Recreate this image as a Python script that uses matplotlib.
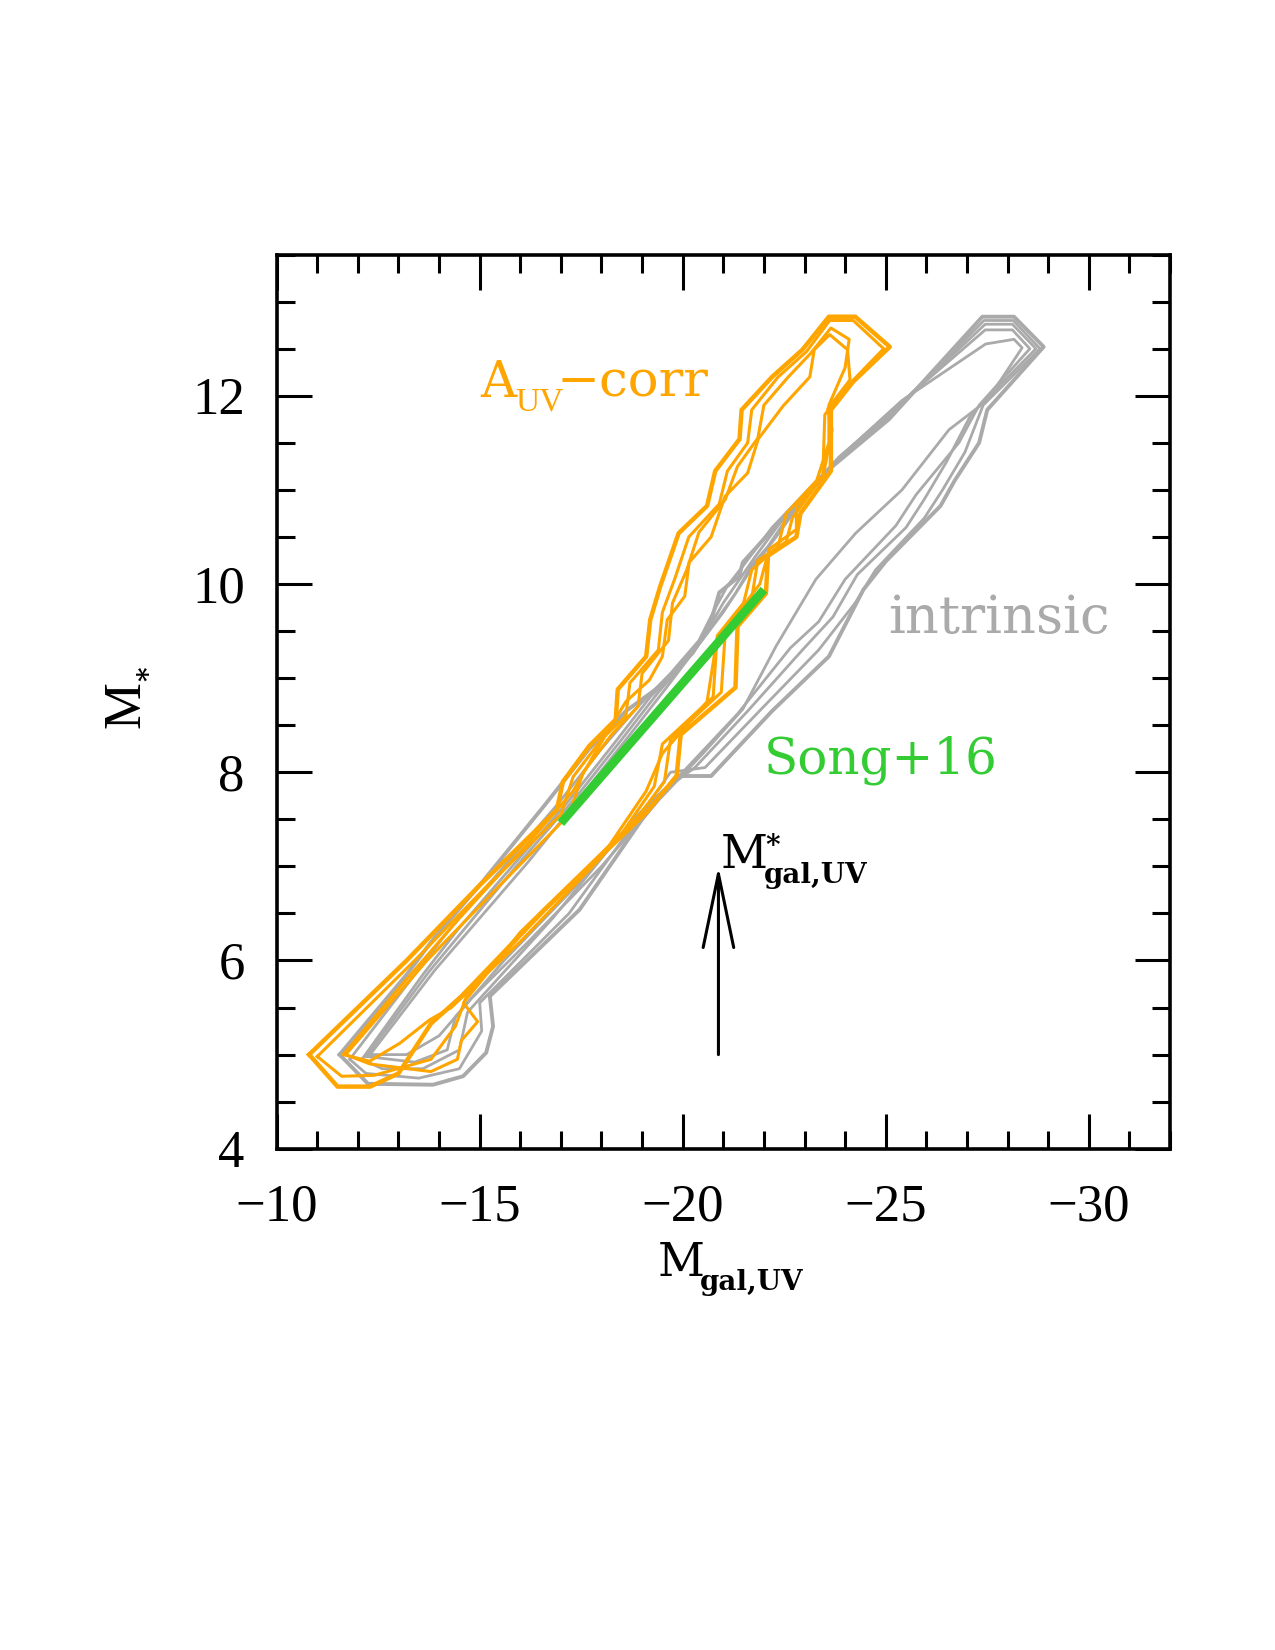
import matplotlib
matplotlib.use("Agg")
import matplotlib.pyplot as plt
from matplotlib.ticker import MultipleLocator

ORANGE = "#ffa500"
GREY = "#aaaaaa"
GREEN = "#33cc33"
SERIF = ["Liberation Serif", "DejaVu Serif"]
BOOK = ["DejaVu Serif"]

# contour outlines, (M_gal,UV, M_*) pairs, outermost first
# intrinsic (grey)
grey_1 = [(-11.55, 5.00), (-13.20, 5.85), (-13.90, 6.25), (-15.00, 6.80), (-16.60, 7.65),
          (-17.70, 8.25), (-18.60, 8.65), (-19.43, 8.91), (-20.25, 9.27), (-20.66, 9.55),
          (-20.90, 9.91), (-21.39, 10.08), (-21.48, 10.23), (-22.13, 10.54), (-23.69, 11.25),
          (-25.08, 11.75), (-27.38, 12.84), (-28.16, 12.84), (-28.89, 12.52), (-27.50, 11.85),
          (-27.30, 11.50), (-26.70, 11.10), (-26.35, 10.83), (-25.00, 10.24), (-24.45, 9.94),
          (-23.60, 9.23), (-22.20, 8.65), (-20.70, 7.96), (-19.85, 7.96), (-19.00, 7.50),
          (-17.46, 6.54), (-15.25, 5.62), (-15.33, 5.30), (-15.16, 5.02), (-14.59, 4.77),
          (-13.85, 4.68), (-12.25, 4.69), (-11.55, 5.00)]
grey_2 = [(-11.80, 4.95), (-13.40, 5.85), (-14.20, 6.30), (-15.40, 6.90), (-16.90, 7.65),
          (-18.00, 8.25), (-18.90, 8.70), (-19.70, 9.05), (-20.40, 9.40), (-20.75, 9.70),
          (-21.10, 9.98), (-21.50, 10.20), (-22.20, 10.60), (-23.75, 11.30), (-25.12, 11.80),
          (-27.42, 12.80), (-28.14, 12.80), (-28.80, 12.50), (-27.40, 11.90), (-26.95, 11.40),
          (-26.40, 11.00), (-25.95, 10.70), (-24.75, 10.15), (-24.25, 9.80), (-23.35, 9.30),
          (-22.00, 8.70), (-20.55, 8.05), (-19.70, 8.00), (-18.80, 7.45), (-17.20, 6.50),
          (-15.00, 5.55), (-15.05, 5.25), (-14.50, 4.85), (-13.50, 4.75), (-12.20, 4.80),
          (-11.80, 4.95)]
grey_3 = [(-12.10, 4.95), (-13.60, 5.85), (-14.50, 6.35), (-15.70, 6.95), (-17.20, 7.70),
          (-18.30, 8.30), (-19.20, 8.80), (-20.00, 9.15), (-20.60, 9.50), (-21.00, 9.80),
          (-21.40, 10.05), (-21.80, 10.30), (-22.40, 10.65), (-23.85, 11.35), (-25.20, 11.85),
          (-27.45, 12.76), (-28.12, 12.76), (-28.70, 12.50), (-27.10, 11.80), (-26.50, 11.30),
          (-25.95, 10.90), (-25.50, 10.60), (-24.30, 10.10), (-23.70, 9.65), (-22.95, 9.30),
          (-21.60, 8.65), (-20.30, 8.05), (-19.50, 7.80), (-18.50, 7.35), (-16.80, 6.45),
          (-14.70, 5.45), (-14.50, 5.05), (-13.60, 4.85), (-12.60, 4.85), (-12.10, 4.95)]
grey_4 = [(-12.20, 4.98), (-13.75, 5.88), (-14.75, 6.40), (-15.90, 7.00), (-17.40, 7.75),
          (-18.50, 8.35), (-19.40, 8.85), (-20.15, 9.22), (-20.80, 9.60), (-21.30, 9.90),
          (-21.70, 10.20), (-22.10, 10.40), (-22.60, 10.72), (-23.95, 11.38), (-25.30, 11.90),
          (-27.45, 12.70), (-28.12, 12.70), (-28.55, 12.50), (-27.30, 11.90), (-26.80, 11.50),
          (-25.75, 10.95), (-25.25, 10.62), (-24.00, 10.05), (-23.35, 9.60), (-22.65, 9.32),
          (-21.35, 8.62), (-20.00, 8.00), (-18.90, 7.55), (-17.50, 6.85), (-15.60, 6.00),
          (-14.40, 5.40), (-14.20, 5.05), (-13.40, 4.92), (-12.20, 4.98)]
grey_5 = [(-12.30, 5.00), (-13.90, 5.90), (-15.00, 6.45), (-16.20, 7.05), (-17.60, 7.80),
          (-18.70, 8.40), (-19.60, 8.90), (-20.30, 9.30), (-21.00, 9.70), (-21.60, 10.10),
          (-22.30, 10.50), (-22.80, 10.80), (-24.00, 11.40), (-25.40, 11.95), (-27.46, 12.55),
          (-28.16, 12.60), (-28.36, 12.51), (-27.50, 11.95), (-26.56, 11.64), (-25.40, 11.00),
          (-24.26, 10.54), (-23.28, 10.05), (-22.30, 9.34), (-21.48, 8.67), (-20.50, 8.20),
          (-19.40, 7.70), (-18.00, 7.00), (-16.20, 6.20), (-14.80, 5.60), (-14.00, 5.20),
          (-13.20, 5.00), (-12.30, 5.00)]

# A_UV corrected (orange)
orange_1 = [(-10.80, 5.00), (-13.20, 6.00), (-15.00, 6.80), (-16.90, 7.60), (-17.05, 7.90),
            (-17.70, 8.28), (-18.35, 8.56), (-18.40, 8.88), (-19.10, 9.23), (-19.20, 9.62),
            (-19.45, 9.98), (-19.90, 10.54), (-20.60, 10.83), (-20.80, 11.20), (-21.40, 11.54),
            (-21.45, 11.85), (-22.20, 12.20), (-22.95, 12.49), (-23.60, 12.84), (-24.25, 12.84),
            (-25.10, 12.52), (-24.20, 12.15), (-23.65, 11.85), (-23.65, 11.20), (-22.90, 10.75),
            (-22.80, 10.50), (-22.10, 10.30), (-22.05, 9.90), (-21.35, 9.55), (-21.30, 8.90),
            (-19.95, 8.40), (-19.85, 7.96), (-19.10, 7.57), (-16.60, 6.54), (-14.55, 5.62),
            (-13.80, 5.33), (-13.00, 4.80), (-12.30, 4.66), (-11.50, 4.66), (-10.80, 5.00)]
orange_2 = [(-11.00, 4.98), (-13.40, 6.00), (-15.20, 6.80), (-17.00, 7.55), (-17.30, 7.95),
            (-18.00, 8.35), (-18.60, 8.60), (-18.70, 8.95), (-19.40, 9.30), (-19.50, 9.70),
            (-19.80, 10.05), (-20.15, 10.50), (-20.90, 10.85), (-21.10, 11.20), (-21.60, 11.50),
            (-21.70, 11.85), (-22.35, 12.20), (-23.05, 12.47), (-23.62, 12.80), (-24.20, 12.80),
            (-24.95, 12.50), (-24.05, 12.10), (-23.50, 11.80), (-23.45, 11.15), (-22.70, 10.70),
            (-22.55, 10.45), (-21.85, 10.25), (-21.70, 9.85), (-21.05, 9.50), (-20.95, 8.85),
            (-19.70, 8.35), (-19.55, 7.90), (-18.85, 7.50), (-16.40, 6.45), (-14.70, 5.65),
            (-14.40, 5.30), (-13.80, 4.95), (-12.40, 4.78), (-11.60, 4.77), (-11.00, 4.98)]
orange_3 = [(-11.70, 5.00), (-13.70, 6.00), (-15.50, 6.80), (-17.20, 7.55), (-17.55, 8.00),
            (-18.25, 8.40), (-18.90, 8.70), (-19.00, 9.05), (-19.65, 9.40), (-19.75, 9.80),
            (-20.10, 10.15), (-20.40, 10.55), (-21.05, 10.90), (-21.35, 11.25), (-21.85, 11.55),
            (-22.00, 11.90), (-22.60, 12.20), (-23.15, 12.45), (-23.65, 12.72), (-24.10, 12.60),
            (-24.00, 12.30), (-23.60, 11.90), (-23.60, 11.50), (-23.30, 11.10), (-22.55, 10.75),
            (-22.35, 10.40), (-21.70, 10.15), (-21.50, 9.80), (-20.85, 9.45), (-20.75, 8.80),
            (-19.50, 8.30), (-19.30, 7.85), (-18.50, 7.35), (-16.00, 6.30), (-14.60, 5.55),
            (-14.95, 5.35), (-14.55, 5.15), (-14.45, 4.95), (-13.80, 4.82), (-12.30, 4.90),
            (-11.70, 5.00)]
orange_4 = [(-11.64, 5.00), (-13.00, 5.70), (-14.50, 6.45), (-16.20, 7.25), (-17.30, 7.80),
            (-17.90, 8.25), (-18.60, 8.75), (-19.18, 8.98), (-19.50, 9.23), (-19.62, 9.62),
            (-20.05, 9.87), (-20.16, 10.23), (-20.70, 10.50), (-21.04, 10.93), (-21.60, 11.18),
            (-21.86, 11.54), (-22.47, 11.89), (-23.13, 12.20), (-23.24, 12.49), (-23.62, 12.65),
            (-24.06, 12.49), (-24.12, 12.17), (-23.57, 11.86), (-23.68, 11.64), (-23.46, 11.15),
            (-22.80, 10.83), (-22.80, 10.58), (-22.13, 10.37), (-21.90, 10.00), (-21.20, 9.60),
            (-20.80, 9.30), (-20.60, 8.75), (-19.50, 8.20), (-19.10, 7.80), (-18.00, 7.10),
            (-16.00, 6.20), (-14.30, 5.50), (-13.77, 5.37), (-13.03, 5.12), (-12.29, 4.93),
            (-11.64, 5.00)]

# Song+16 relation
song_x = [-17.0, -22.0]
song_y = [7.46, 9.94]

# characteristic magnitude marker
mstar_uv = -20.88
arrow_y = [5.0, 7.0]

plt.rcParams["font.family"] = SERIF

fig = plt.figure(figsize=(12.75, 16.5), dpi=100)
ax = fig.add_axes([0.2170, 0.3038, 0.7006, 0.5419])

for pts, lw in [(grey_1, 2.8), (grey_2, 2.0), (grey_3, 2.0), (grey_4, 2.0), (grey_5, 2.0)]:
    xs, ys = zip(*pts)
    ax.plot(xs, ys, color=GREY, lw=lw)
for pts, lw in [(orange_1, 3.2), (orange_2, 2.2), (orange_3, 2.2), (orange_4, 2.2)]:
    xs, ys = zip(*pts)
    ax.plot(xs, ys, color=ORANGE, lw=lw)

ax.plot(song_x, song_y, color=GREEN, lw=6.2, solid_capstyle="butt")

ax.annotate("", xy=(mstar_uv, arrow_y[1]), xytext=(mstar_uv, arrow_y[0]),
            arrowprops=dict(arrowstyle="->,head_length=5.3,head_width=1.1", lw=2.2,
                            color="black", shrinkA=0, shrinkB=0, mutation_scale=10))

# labels inside the panel
ax.text(-15.02, 11.99, "A", color=ORANGE, fontsize=36, family=BOOK, va="baseline")
ax.annotate("UV", xy=(-15.02, 11.99), xytext=(25, -10), textcoords="offset points",
            color=ORANGE, fontsize=24, family=SERIF, va="baseline")
ax.annotate("\u2212corr", xy=(-15.02, 11.99), xytext=(55, 0), textcoords="offset points",
            color=ORANGE, fontsize=37, family=BOOK, va="baseline")
ax.text(-25.06, 9.48, "intrinsic", color=GREY, fontsize=38, family=BOOK, va="baseline")
ax.text(-22.0, 7.99, "Song+16", color=GREEN, fontsize=36, family=BOOK, va="baseline")

ax.text(-20.94, 6.98, "M", fontsize=33, family=BOOK, va="baseline")
ax.annotate("*", xy=(-20.94, 6.98), xytext=(32, 10), textcoords="offset points",
            fontsize=20, family=BOOK, weight="bold", va="baseline")
ax.annotate("gal,UV", xy=(-20.94, 6.98), xytext=(31, -10.8), textcoords="offset points",
            fontsize=20, family=BOOK, weight="bold", va="baseline")

ax.set_xlim(-10, -32)
ax.set_ylim(4, 13.5)
ax.xaxis.set_major_locator(MultipleLocator(5))
ax.xaxis.set_minor_locator(MultipleLocator(1))
ax.yaxis.set_major_locator(MultipleLocator(2))
ax.yaxis.set_minor_locator(MultipleLocator(0.5))
ax.tick_params(which="both", direction="in", top=True, right=True, width=2.2)
ax.tick_params(which="major", length=25)
ax.tick_params(which="minor", length=13)
ax.tick_params(axis="x", labelsize=38, pad=25)
ax.tick_params(axis="y", labelsize=38, pad=23)
for sp in ax.spines.values():
    sp.set_linewidth(2.6)

# axis titles
fig.text(0.5157, 0.2267, "M", fontsize=33, family=BOOK, va="baseline")
fig.text(0.5490, 0.2182, "gal,UV", fontsize=20, family=BOOK, weight="bold", va="baseline")
fig.text(0.1098, 0.5588, "M", fontsize=38, family=SERIF, rotation=90,
         rotation_mode="anchor", ha="left", va="baseline")
fig.text(0.1235, 0.5870, "*", fontsize=20, family=BOOK, weight="bold", rotation=90,
         rotation_mode="anchor", ha="left", va="baseline")

fig.savefig("out.png", dpi=100)
